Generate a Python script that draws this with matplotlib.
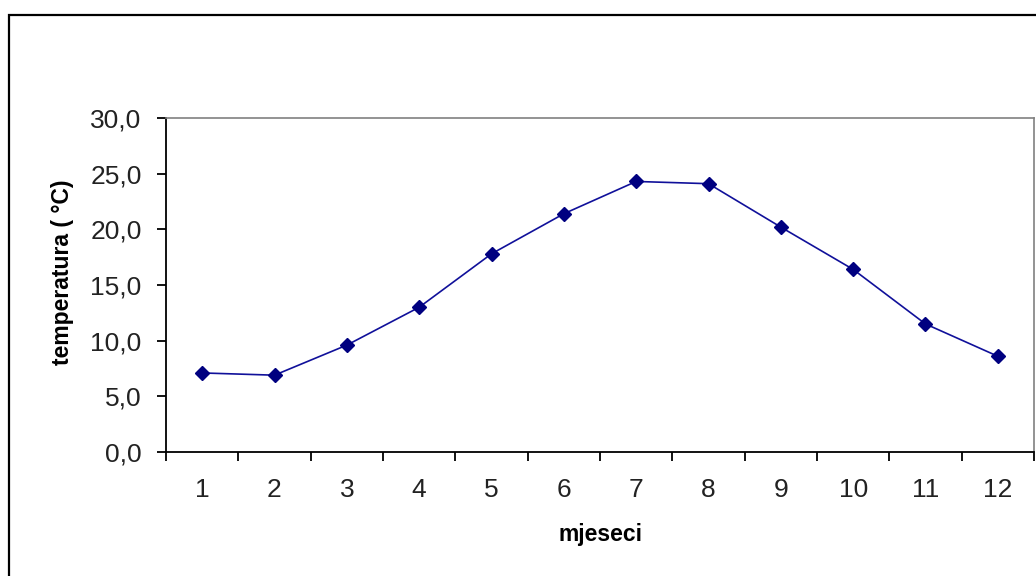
import matplotlib
matplotlib.use("Agg")
import matplotlib.pyplot as plt
from matplotlib.patches import Rectangle
from matplotlib.ticker import FixedLocator, FuncFormatter

months = ["1", "2", "3", "4", "5", "6", "7", "8", "9", "10", "11", "12"]
temperature = [7.1, 6.9, 9.6, 13.0, 17.8, 21.4, 24.3, 24.1, 20.2, 16.4, 11.5, 8.6]
y_ticks = [0, 5, 10, 15, 20, 25, 30]

plt.rcParams['font.family'] = ['Liberation Sans', 'DejaVu Sans']

W, H = 1036, 576
fig = plt.figure(figsize=(W / 100, H / 100), dpi=100)
fig.patch.set_facecolor("white")

# outer chart frame
fig.patches.append(Rectangle((9 / W, -0.1), 1.2, 1 - 15 / H + 0.1,
                             transform=fig.transFigure, fill=False,
                             edgecolor="black", linewidth=1.6))

ax = fig.add_axes([166 / W, (H - 452) / H, 868 / W, 334 / H])
x = list(range(len(months)))
ax.plot(x, temperature, color="#10109a", linewidth=1.2, marker="D",
        markersize=7, markerfacecolor="#000080", markeredgecolor="#000080")

ax.set_xlim(-0.5, len(months) - 0.5)
ax.set_ylim(0, 30)

# x category axis: ticks between categories, labels at centers
ax.xaxis.set_major_locator(FixedLocator([i - 0.5 for i in range(len(months) + 1)]))
ax.xaxis.set_major_formatter(FuncFormatter(lambda v, p: ""))
ax.xaxis.set_minor_locator(FixedLocator(x))
ax.set_xticklabels(months, minor=True)
ax.tick_params(axis="x", which="major", direction="out", length=6.5, width=1.3, color="black")
ax.tick_params(axis="x", which="minor", length=0, pad=19, labelsize=19, labelcolor="#222222")

ax.set_yticks(y_ticks)
ax.yaxis.set_major_formatter(FuncFormatter(lambda v, p: f"{v:.1f}".replace(".", ",")))
ax.tick_params(axis="y", direction="out", length=6.5, width=1.3, color="black",
               labelsize=19, labelcolor="#222222", pad=11)

for s in ["left", "bottom"]:
    ax.spines[s].set_color("black")
    ax.spines[s].set_linewidth(1.3)
for s in ["top", "right"]:
    ax.spines[s].set_color("#808080")
    ax.spines[s].set_linewidth(1.2)

ax.set_xlabel("mjeseci", fontsize=16.5, fontweight="bold")
ax.xaxis.set_label_coords(0.5, (452 - 535) / 334)
ax.xaxis.label.set_verticalalignment("center")
ax.set_ylabel("temperatura ( °C)", fontsize=16.5, fontweight="bold")
ax.yaxis.set_label_coords((63 - 166) / 868, (452 - 272) / 334)
ax.yaxis.label.set_verticalalignment("center")

fig.savefig("out.png", dpi=100, facecolor="white")
